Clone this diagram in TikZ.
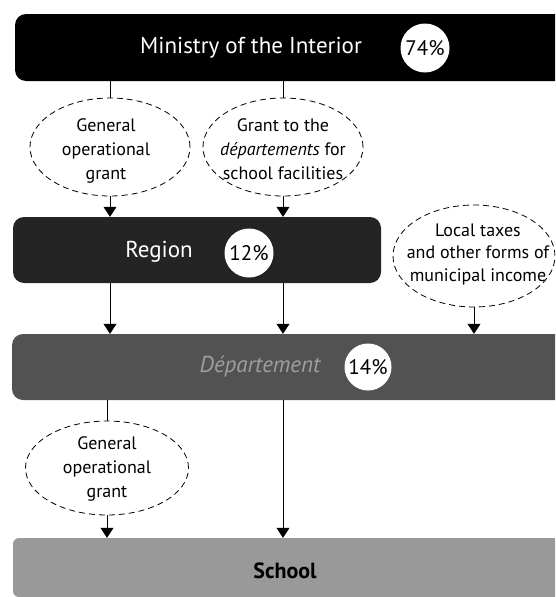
\documentclass[tikz,border=0pt]{standalone}
\usepackage{fontspec}
\setmainfont{PT Sans}
\usetikzlibrary{shapes.geometric,arrows.meta}

\begin{document}
\begin{tikzpicture}[x=1pt,y=-1pt,
  level/.style={draw=none, rounded corners=11pt, inner sep=0pt, minimum height=66pt},
  grant/.style={ellipse, draw, dash pattern=on 6pt off 4pt, line width=0.8pt,
                minimum width=160pt, minimum height=98pt, inner sep=0pt},
  granttext/.style={align=center, inner sep=0pt, font=\fontsize{18}{24}\selectfont},
  pct/.style={circle, fill=white, minimum size=49pt, inner sep=0pt,
              font=\fontsize{21}{24}\selectfont},
  levelname/.style={inner sep=0pt, font=\fontsize{23}{26}\selectfont},
  link/.style={line width=0.8pt},
  flow/.style={line width=0.8pt, -{Triangle[width=13pt,length=10pt]}},
]
\useasboundingbox (0,0) rectangle (555,597);
\clip (0,0) rectangle (555,597);

% --- funding levels ---
\node[level, fill=black, minimum width=560pt, minimum height=67pt] (ministry) at (295,47.5) {};
\node[levelname, text=white] (ministrytxt) at (251,48) {Ministry of the Interior};
\node[pct] (p74) at (425,48) {74\%};

\node[level, fill=black!86, minimum width=368pt] (region) at (197,250) {};
\node[levelname, text=white] (regiontxt) at (159,252) {Region};
\node[pct] (p12) at (249,253) {12\%};

\node[level, fill=black!68, minimum width=565pt] (dept) at (294.5,367) {};
\node[levelname, text=black!38, font=\fontsize{23}{26}\selectfont\itshape] (depttxt) at (260,367) {Département};
\node[pct, minimum size=47pt] (p14) at (368,367) {14\%};

\node[level, fill=black!40, rounded corners=6pt, minimum width=565pt, minimum height=59pt] (school) at (295.5,567.5) {};
\node[levelname, font=\fontsize{22}{26}\selectfont\bfseries] (schooltxt) at (285,571) {School};

% --- grants ---
\node[grant] (g1) at (110,147) {};
\node[granttext] (g1txt) at (106,151) {General\\operational\\grant};

\node[grant] (g2) at (283,147) {};
\node[granttext] (g2txt) at (283,149) {Grant to the\\\textit{départements} for\\school facilities};

\node[grant, minimum width=162pt, minimum height=102pt] (g3) at (474,256) {};
\node[granttext, font=\fontsize{18}{22.5}\selectfont] (g3txt) at (478,254) {Local taxes\\and other forms of\\municipal income};

\node[grant, minimum width=163pt, minimum height=94pt] (g4) at (107,468) {};
\node[granttext] (g4txt) at (107,469) {General\\operational\\grant};

% --- connectors ---
\draw[link] (ministry.south -| g1.north) -- (g1.north);
\draw[link] (ministry.south -| g2.north) -- (g2.north);

\draw[flow] (g1.south) -- (g1.south |- region.north);
\draw[flow] (g2.south) -- (g2.south |- region.north);

\draw[flow] (region.south -| g1.south) -- (g1.south |- dept.north);
\draw[flow] (region.south -| g2.south) -- (g2.south |- dept.north);
\draw[flow] (g3.south) -- (g3.south |- dept.north);

\draw[link] (dept.south -| g4.north) -- (g4.north);
\draw[flow] (g4.south) -- (g4.south |- school.north);
\draw[flow] (dept.south -| g2.south) -- (g2.south |- school.north);
\end{tikzpicture}
\end{document}
